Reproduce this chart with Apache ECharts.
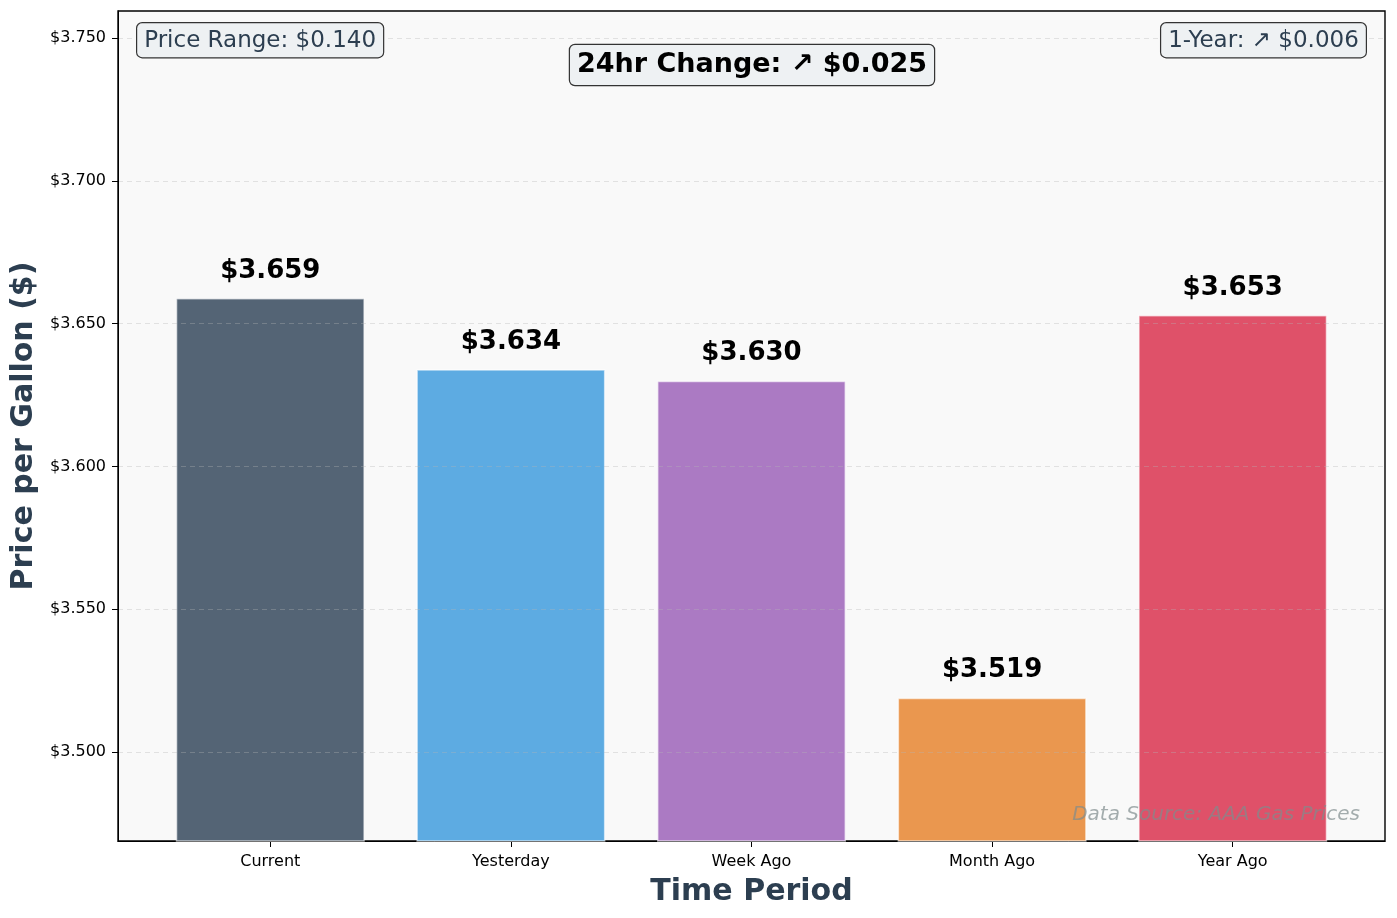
<!DOCTYPE html>
<html>
<head>
<meta charset="utf-8">
<script src="https://cdn.jsdelivr.net/npm/echarts@6/dist/echarts.min.js"></script>
<style>
  html, body { margin: 0; padding: 0; background: #fff; }
  #chart { width: 1397px; height: 918px; }
</style>
</head>
<body>
<div id="chart"></div>
<script>
var categories = ['Current', 'Yesterday', 'Week Ago', 'Month Ago', 'Year Ago'];
var prices = [3.659, 3.634, 3.630, 3.519, 3.653];
var barColors = ['#546475', '#5dabe2', '#ab7ac3', '#ea974f', '#df5169'];
var yMin = 3.4688, yMax = 3.7595;

var font = 'DejaVu Sans';
var myChart = echarts.init(document.getElementById('chart'));

var barData = prices.map(function(v, i){
    return { value: v, itemStyle: { color: barColors[i] } };
});

option = {
    backgroundColor: '#ffffff',
    animation: false,
    grid: [
        // frame / y axis
        { left: 118, right: 12, top: 11, bottom: 77, outerBoundsMode: 'none',
          show: true, backgroundColor: '#f9f9f9', borderColor: '#000', borderWidth: 1.4 },
        // bars, inset so the side margins match the original
        { left: 150, right: 44, top: 11, bottom: 77, outerBoundsMode: 'none', show: false }
    ],
    xAxis: [
        {
            gridIndex: 0, type: 'value', min: 0, max: 1,
            axisLine: { show: true, onZero: false, lineStyle: { color: '#000', width: 1 } },
            axisTick: { show: false }, axisLabel: { show: false }, splitLine: { show: false }
        },
        {
            gridIndex: 1,
            type: 'category',
            data: categories,
            name: 'Time Period',
            nameLocation: 'middle',
            nameGap: 36,
            nameTextStyle: { fontFamily: font, fontSize: 30, fontWeight: 'bold', color: '#2c3e50' },
            axisLine: { show: false, onZero: false },
            axisTick: { show: true, alignWithLabel: true, length: 6, lineStyle: { color: '#000', width: 1 } },
            axisLabel: { fontFamily: font, fontSize: 16, color: '#000', margin: 13 }
        }
    ],
    yAxis: [
        {
            gridIndex: 0,
            type: 'value',
            min: yMin,
            max: yMax,
            z: 3,
            name: 'Price per Gallon ($)',
            nameLocation: 'middle',
            nameGap: 78,
            nameTextStyle: { fontFamily: font, fontSize: 30, fontWeight: 'bold', color: '#2c3e50' },
            axisLine: { show: true, onZero: false, lineStyle: { color: '#000', width: 1 } },
            axisTick: { show: true, length: 6, lineStyle: { color: '#000', width: 1 } },
            axisLabel: {
                fontFamily: font, fontSize: 16, color: '#000', margin: 12,
                showMinLabel: false, showMaxLabel: false,
                formatter: function(v){ return '$' + v.toFixed(3); }
            },
            splitLine: {
                show: true, showMinLine: false, showMaxLine: false,
                lineStyle: { color: 'rgba(180,180,180,0.35)', type: [5, 4], width: 1 }
            }
        },
        { gridIndex: 1, type: 'value', min: yMin, max: yMax, show: false }
    ],
    series: [{
        type: 'bar',
        xAxisIndex: 1,
        yAxisIndex: 1,
        data: barData,
        barWidth: 189,
        itemStyle: { borderColor: 'rgba(255,255,255,0.6)', borderWidth: 1.5 },
        label: {
            show: true,
            position: 'top',
            distance: 14,
            fontFamily: font,
            fontSize: 26,
            fontWeight: 'bold',
            color: '#000',
            formatter: function(p){ return '$' + p.value.toFixed(3); }
        }
    }],
    graphic: [
        {
            type: 'text', left: 136, top: 22, z: 10,
            style: {
                text: 'Price Range: $0.140', fontFamily: font, fontSize: 23, fill: '#2c3e50',
                backgroundColor: '#eef1f3', borderColor: '#333', borderWidth: 1.2, borderRadius: 5,
                padding: [6, 7, 5, 7]
            }
        },
        {
            type: 'text', right: 30, top: 22, z: 10,
            style: {
                text: '1-Year: ↗ $0.006', fontFamily: font, fontSize: 23, fill: '#2c3e50',
                backgroundColor: '#eef1f3', borderColor: '#333', borderWidth: 1.2, borderRadius: 5,
                padding: [6, 7, 5, 7]
            }
        },
        {
            type: 'text', x: 752, y: 65, z: 10,
            style: {
                text: '24hr Change: ↗ $0.025', fontFamily: font, fontSize: 27, fontWeight: 'bold', fill: '#000',
                align: 'center', verticalAlign: 'middle',
                backgroundColor: '#eef1f3', borderColor: '#333', borderWidth: 1.2, borderRadius: 5,
                padding: [7, 7, 6, 7]
            }
        },
        {
            type: 'text', right: 37, top: 805, z: 10,
            style: {
                text: 'Data Source: AAA Gas Prices', fontFamily: font, fontSize: 20, fontStyle: 'italic',
                fill: 'rgba(127,140,141,0.7)'
            }
        }
    ]
};

myChart.setOption(option);
</script>
</body>
</html>
